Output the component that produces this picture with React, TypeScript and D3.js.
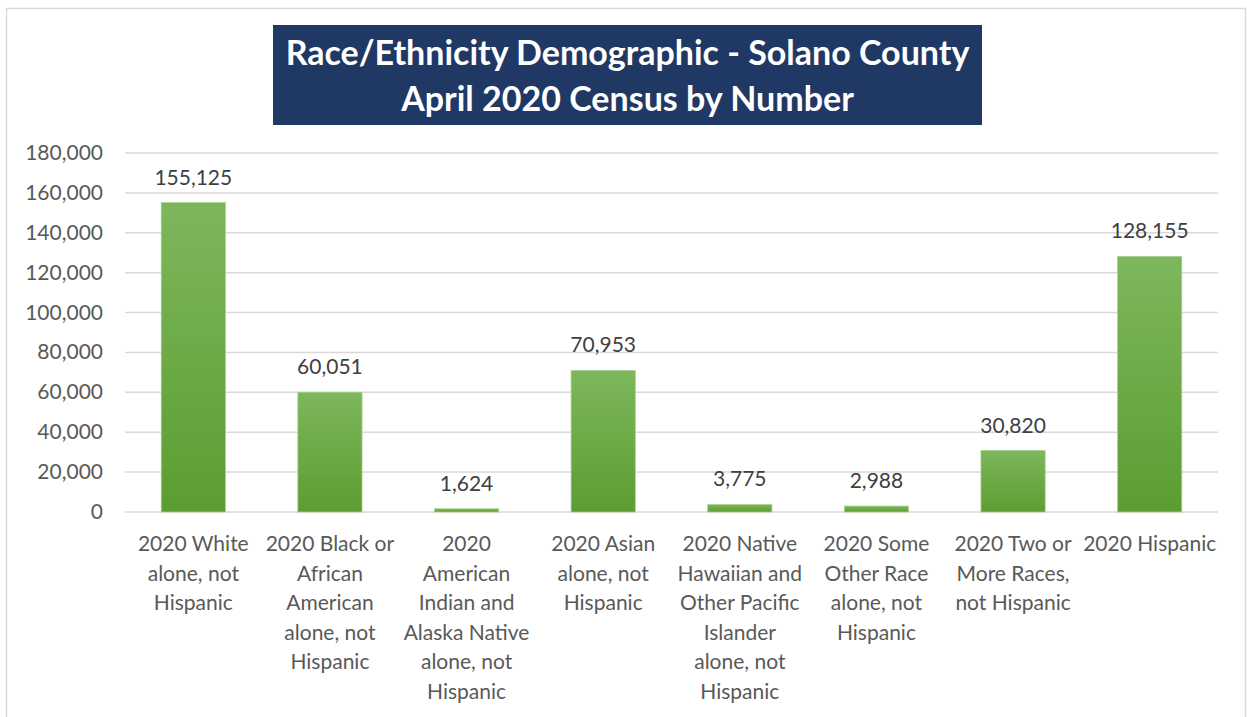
import React from "react";
import * as d3 from "d3";

const titleLines = ["Race/Ethnicity Demographic - Solano County", "April 2020 Census by Number"];
const categories: string[][] = [
  ["2020 White", "alone, not", "Hispanic"],
  ["2020 Black or", "African", "American", "alone, not", "Hispanic"],
  ["2020", "American", "Indian and", "Alaska Native", "alone, not", "Hispanic"],
  ["2020 Asian", "alone, not", "Hispanic"],
  ["2020 Native", "Hawaiian and", "Other Pacific", "Islander", "alone, not", "Hispanic"],
  ["2020 Some", "Other Race", "alone, not", "Hispanic"],
  ["2020 Two or", "More Races,", "not Hispanic"],
  ["2020 Hispanic"],
];
const values = [155125, 60051, 1624, 70953, 3775, 2988, 30820, 128155];
const yTicks = [0, 20000, 40000, 60000, 80000, 100000, 120000, 140000, 160000, 180000];

const W = 1247;
const H = 717;
const plot = { left: 125, right: 1218, top: 153, bottom: 512 };
const FONT = "Lato, 'Open Sans', sans-serif";

export default function App() {
  const x = d3
    .scaleBand<number>()
    .domain(d3.range(values.length))
    .range([plot.left, plot.right])
    .paddingInner(0.53)
    .paddingOuter(0.265);
  const y = d3.scaleLinear().domain([0, 180000]).range([plot.bottom, plot.top]);
  const fmt = d3.format(",");
  const bandStep = (plot.right - plot.left) / values.length;

  return (
    <svg
      width={W}
      height={H}
      style={{ position: "absolute", left: 0, top: 0, background: "#fff" }}
      fontFamily={FONT}
    >
      <defs>
        <linearGradient id="barGrad" x1="0" y1="0" x2="0" y2="1">
          <stop offset="0%" stopColor="#7db75c" />
          <stop offset="100%" stopColor="#5c9d31" />
        </linearGradient>
      </defs>
      <rect x={6.5} y={8.5} width={1239} height={720} fill="#fff" stroke="#d9d9d9" strokeWidth={1.5} />

      {/* Title */}
      <rect x={273} y={25} width={709} height={100} fill="#203864" />
      {titleLines.map((t, i) => (
        <text
          key={i}
          x={627.5}
          y={65 + i * 46}
          textAnchor="middle"
          fill="#fff"
          fontWeight={700}
          fontSize={34}
        >
          {t}
        </text>
      ))}

      {/* Gridlines */}
      {yTicks.map((t) => (
        <g key={t}>
          <line
            x1={plot.left}
            x2={plot.right}
            y1={y(t)}
            y2={y(t)}
            stroke="#d9d9d9"
            strokeWidth={1.5}
          />
          <text x={103} y={y(t) + 7} textAnchor="end" fontSize={21} fill="#595959">
            {fmt(t)}
          </text>
        </g>
      ))}

      {/* Bars */}
      {values.map((v, i) => (
        <g key={i}>
          <rect
            x={x(i)!}
            y={y(v)}
            width={x.bandwidth()}
            height={y(0) - y(v)}
            fill="url(#barGrad)"
            stroke="#a9d18e"
            strokeWidth={0.75}
          />
          <text
            x={x(i)! + x.bandwidth() / 2}
            y={y(v) - 18}
            textAnchor="middle"
            fontSize={21}
            fill="#404040"
          >
            {fmt(v)}
          </text>
        </g>
      ))}

      {/* Category labels */}
      {categories.map((lines, i) => (
        <text
          key={i}
          x={plot.left + bandStep * (i + 0.5)}
          textAnchor="middle"
          fontSize={21}
          fill="#595959"
        >
          {lines.map((l, j) => (
            <tspan key={j} x={plot.left + bandStep * (i + 0.5)} y={551 + j * 29.5}>
              {l}
            </tspan>
          ))}
        </text>
      ))}
    </svg>
  );
}
